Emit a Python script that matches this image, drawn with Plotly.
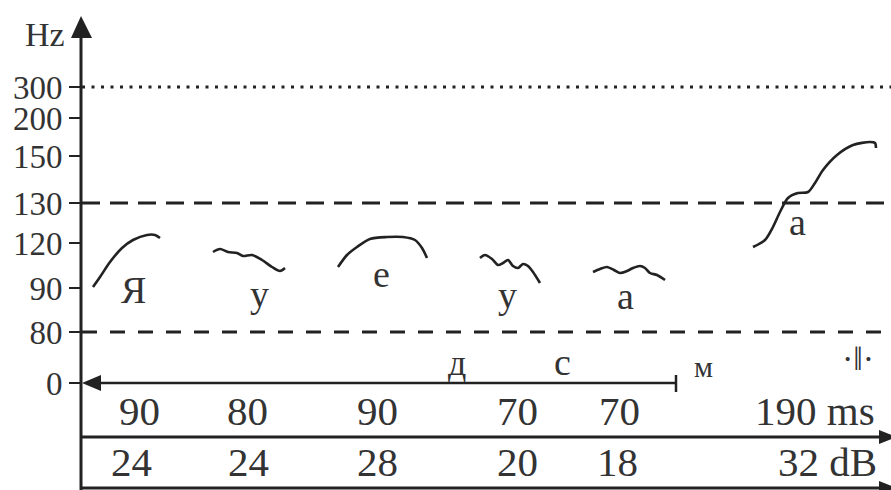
import plotly.graph_objects as go

W, H = 891, 490
INK = "#222222"
TXT = "#333333"
FONT = "Liberation Serif"

# Hz scale (chart units run top->bottom, like the printed diagram)
hz_labels = ["300", "200", "150", "130", "120", "90", "80", "0"]
hz_pos = [87, 118, 156, 203, 243, 288, 332, 383]

# reference levels
dotted_level = 87          # 300 Hz
dashed_levels = [203, 332]  # 130 Hz, 80 Hz

# pitch contours, one per vowel
ya_x = [93, 100, 110, 122, 133, 147, 155, 160]
ya_y = [287, 277, 262, 248, 240, 235, 235, 238]
u1_x = [213, 220, 228, 237, 243, 252, 262, 272, 280, 285]
u1_y = [252, 249, 252, 253, 256, 255, 260, 267, 271, 268]
e_x = [338, 347, 357, 370, 387, 403, 415, 422, 427]
e_y = [267, 255, 247, 239, 237, 237, 240, 248, 258]
u2_x = [480, 485, 492, 498, 503, 508, 513, 518, 523, 528, 533, 540]
u2_y = [258, 255, 259, 265, 263, 260, 266, 268, 264, 266, 272, 283]
a1_x = [593, 600, 607, 614, 620, 627, 633, 640, 645, 650, 657, 665]
a1_y = [272, 269, 267, 270, 273, 271, 268, 266, 268, 273, 275, 280]
a2_x = [753, 765, 773, 780, 788, 798, 808, 815, 823, 837, 853, 870, 875, 876]
a2_y = [247, 240, 227, 212, 198, 193, 192, 183, 170, 155, 145, 142, 143, 148]
contours = [(ya_x, ya_y), (u1_x, u1_y), (e_x, e_y), (u2_x, u2_y), (a1_x, a1_y), (a2_x, a2_y)]

# vowel labels
vowels = ["Я", "у", "е", "у", "а", "а"]
vowel_x = [133, 259, 381, 507, 625, 797]
vowel_y = [290, 294, 274, 295, 296, 222]

# consonants / pause mark on the time line
cons = ["д", "с", "м", "·‖·"]
cons_x = [457, 562, 703, 858]
cons_y = [363, 362, 366, 358]
cons_size = [36, 38, 30, 34]

# durations (ms) and intensities (dB)
dur_text = ["90", "80", "90", "70", "70", "190 ms"]
dur_x = [139, 247, 377, 517, 619, 815]
int_text = ["24", "24", "28", "20", "18", "32 dB"]
int_x = [131, 248, 377, 517, 617, 827]
row_y = [411, 462]

fig = go.Figure()

for cx, cy in contours:
    fig.add_trace(go.Scatter(x=cx, y=cy, mode="lines",
                             line=dict(color=INK, width=2.6, shape="spline", smoothing=0.8),
                             hoverinfo="skip"))

shapes = []
# reference lines
shapes.append(dict(type="line", x0=82, x1=W, y0=dotted_level, y1=dotted_level,
                   line=dict(color=INK, width=3, dash="3px,6.5px")))
shapes.append(dict(type="line", x0=82, x1=W, y0=dashed_levels[0], y1=dashed_levels[0],
                   line=dict(color=INK, width=3, dash="18px,10px")))
shapes.append(dict(type="line", x0=82, x1=W, y0=dashed_levels[1], y1=dashed_levels[1],
                   line=dict(color=INK, width=3, dash="15px,13px")))
# vertical axis
shapes.append(dict(type="line", x0=81, x1=81, y0=36, y1=490, line=dict(color=INK, width=3)))
shapes.append(dict(type="path", path="M 81 16 L 71 38 L 92 38 Z", fillcolor=INK, line=dict(width=0)))
# time line with left arrow and end tick
shapes.append(dict(type="line", x0=95, x1=676, y0=383, y1=383, line=dict(color=INK, width=2.5)))
shapes.append(dict(type="path", path="M 82 383 L 101 375 L 101 391 Z", fillcolor=INK, line=dict(width=0)))
shapes.append(dict(type="line", x0=676, x1=676, y0=375, y1=392, line=dict(color=INK, width=2.5)))
# table lines with right arrows
for ly in [437, 488]:
    shapes.append(dict(type="line", x0=81, x1=880, y0=ly, y1=ly, line=dict(color=INK, width=3)))
    shapes.append(dict(type="path", path=f"M 897 {ly} L 879 {ly-7} L 879 {ly+7} Z",
                       fillcolor=INK, line=dict(width=0)))

ann = []
ann.append(dict(x=67, y=34, text="Hz", showarrow=False, xanchor="right", yanchor="middle",
                font=dict(family=FONT, size=34, color=TXT)))
for t, x, y in zip(vowels, vowel_x, vowel_y):
    ann.append(dict(x=x, y=y, text=t, showarrow=False, font=dict(family=FONT, size=38, color=TXT)))
for t, x, y, s in zip(cons, cons_x, cons_y, cons_size):
    ann.append(dict(x=x, y=y, text=t, showarrow=False, font=dict(family=FONT, size=s, color=TXT)))
for t, x in zip(dur_text, dur_x):
    ann.append(dict(x=x, y=row_y[0], text=t, showarrow=False, font=dict(family=FONT, size=41, color=TXT)))
for t, x in zip(int_text, int_x):
    ann.append(dict(x=x, y=row_y[1], text=t, showarrow=False, font=dict(family=FONT, size=41, color=TXT)))

fig.update_layout(
    width=W, height=H, margin=dict(l=0, r=0, t=0, b=0),
    paper_bgcolor="white", plot_bgcolor="white", showlegend=False,
    shapes=shapes, annotations=ann,
    xaxis=dict(range=[0, W], domain=[0, 1], visible=False, fixedrange=True),
    yaxis=dict(range=[H, 0], anchor="free", position=81 / W, side="left",
               tickvals=hz_pos, ticktext=hz_labels, ticks="outside", ticklen=12,
               tickwidth=2, tickcolor=INK, showgrid=False, zeroline=False, showline=False,
               tickfont=dict(family=FONT, size=33, color=TXT), fixedrange=True),
)

# page body has a default 8px margin; drop it so the chart fills the window
fig.write_html("out.html", config={"displayModeBar": False},
               post_script="document.body.style.margin='0';")
